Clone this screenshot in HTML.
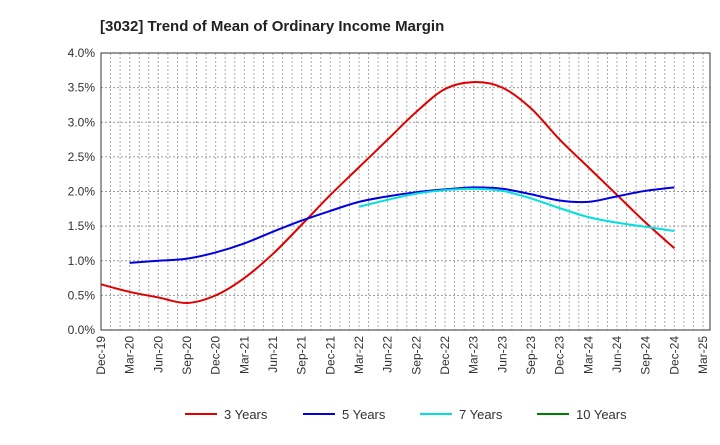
<!DOCTYPE html>
<html><head><meta charset="utf-8"><style>
body{margin:0;background:#fff;font-family:"Liberation Sans",sans-serif}
</style></head><body>
<svg id="c" width="720" height="440" xmlns="http://www.w3.org/2000/svg" font-family="Liberation Sans, sans-serif">
<text x="100" y="31" font-size="15" font-weight="bold" fill="#222">[3032]  Trend of Mean of Ordinary Income Margin</text>
</svg>
<script>
const xLabels=["Dec-19","Mar-20","Jun-20","Sep-20","Dec-20","Mar-21","Jun-21","Sep-21","Dec-21","Mar-22","Jun-22","Sep-22","Dec-22","Mar-23","Jun-23","Sep-23","Dec-23","Mar-24","Jun-24","Sep-24","Dec-24","Mar-25"];
const yTicks=[0,0.5,1,1.5,2,2.5,3,3.5,4];
const s3=[0.66,0.55,0.47,0.39,0.50,0.75,1.10,1.52,1.95,2.35,2.75,3.15,3.48,3.58,3.50,3.20,2.75,2.35,1.95,1.55,1.18];
const s5=[null,0.97,1.00,1.03,1.12,1.25,1.42,1.58,1.72,1.85,1.93,1.99,2.03,2.06,2.04,1.96,1.87,1.85,1.93,2.01,2.06];
const s7=[null,null,null,null,null,null,null,null,null,1.78,1.88,1.97,2.02,2.04,2.01,1.90,1.76,1.63,1.55,1.49,1.43];
const s10=[];
const names=["3 Years","5 Years","7 Years","10 Years"];
const colors=["#e00000","#0000e0","#00e0e0","#008000"];
const L=101,R=710,RA=703,T=53,B=330;
const X=i=>L+(RA-L)*i/(xLabels.length-1);
const Y=v=>B-(B-T)*v/4;
const svg=document.getElementById('c');const NS="http://www.w3.org/2000/svg";
function mk(t,a,p){const e=document.createElementNS(NS,t);for(const k in a)e.setAttribute(k,a[k]);(p||svg).appendChild(e);return e;}
const mStep=(RA-L)/((xLabels.length-1)*3);
for(let x=L+mStep;x<R-1;x+=mStep){const g=mk('line',{x1:x,x2:x,y1:T,y2:B,stroke:'#aaa','stroke-dasharray':'2,2','stroke-width':1});

}
yTicks.forEach(v=>{const y=Y(v);if(v>0&&v<4){const g=mk('line',{x1:L,x2:R,y1:y,y2:y,stroke:'#999','stroke-dasharray':'2,2'});

}
const t=mk('text',{x:L-6,y:y+4,'text-anchor':'end','font-size':12,fill:'#333'});t.textContent=v.toFixed(1)+'%';

});
xLabels.forEach((l,i)=>{const x=X(i);const t=mk('text',{transform:`translate(${x+4},${B+6}) rotate(-90)`,'text-anchor':'end','font-size':12,fill:'#333'});t.textContent=l;

});
const fr=mk('rect',{x:L,y:T,width:R-L,height:B-T,fill:'none',stroke:'#333','stroke-width':1});


function path(arr){const p=[];arr.forEach((v,i)=>{if(v!=null)p.push([X(i),Y(v)]);});if(p.length<2)return '';
let d=`M${p[0][0]},${p[0][1]}`;for(let i=0;i<p.length-1;i++){const p0=p[i-1]||p[i],p1=p[i],p2=p[i+1],p3=p[i+2]||p2;
d+=` C${p1[0]+(p2[0]-p0[0])/6},${p1[1]+(p2[1]-p0[1])/6} ${p2[0]-(p3[0]-p1[0])/6},${p2[1]-(p3[1]-p1[1])/6} ${p2[0]},${p2[1]}`;}return d;}
[s3,s5,s7,s10].forEach((s,k)=>{const d=path(s);if(!d)return;const e=mk('path',{d:d,fill:'none',stroke:colors[k],'stroke-width':2});

});
const lx=[185,303,420,537];
names.forEach((n,k)=>{const g=mk('g',{});


mk('line',{x1:lx[k],x2:lx[k]+32,y1:414,y2:414,stroke:colors[k],'stroke-width':2},g);
const t=mk('text',{x:lx[k]+39,y:419,'font-size':13,fill:'#333'},g);t.textContent=n;});
</script>
</body></html>
